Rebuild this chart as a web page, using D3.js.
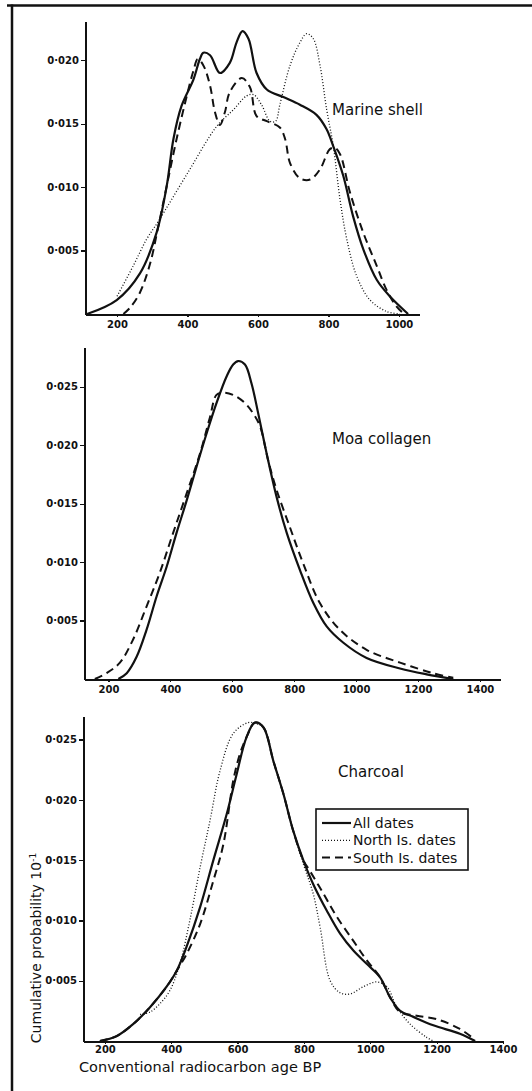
<!DOCTYPE html>
<meta charset="utf-8">
<style>
  body { margin: 0; background: #fff; }
  svg { display: block; }
  .axis path, .axis line { stroke: #111; shape-rendering: crispEdges; }
  .axis path { stroke-width: 2px; }
  .axis line { stroke-width: 1.2px; }
  .axis text { font: bold 10px "DejaVu Sans"; fill: #111; }
  .lbl { font: 14px "DejaVu Sans"; fill: #111; }
  .curve { fill: none; stroke: #111; }
</style>
<svg></svg>
<script src="https://d3js.org/d3.v7.min.js"></script>
<script>

// ---- data ----
var seriesNames = ["All dates", "North Is. dates", "South Is. dates"];
var yTicks = [0.005, 0.010, 0.015, 0.020, 0.025];
var xTicksShell = [200, 400, 600, 800, 1000];
var xTicksWide = [200, 400, 600, 800, 1000, 1200, 1400];

// Marine shell
var shellAll = [[115,0],[199,0.0011],[265,0.0032],[312,0.0064],[341,0.0101],[360,0.0138],[383,0.0164],
  [417,0.0185],[435,0.0201],[445,0.0206],[464,0.0204],[492,0.0190],[520,0.0198],[539,0.0214],[556,0.0223],
  [573,0.0217],[596,0.0190],[625,0.0177],[672,0.0171],[719,0.0165],[766,0.0157],[794,0.0146],[814,0.0132],
  [842,0.0109],[870,0.0077],[899,0.0051],[937,0.0027],[974,0.0014],[1026,0]];
var shellNorth = [[200,0.0014],[246,0.0038],[284,0.0059],[317,0.0073],[400,0.0111],[483,0.0148],[530,0.0161],
  [568,0.0172],[587,0.0173],[610,0.0165],[634,0.0152],[650,0.0152],[662,0.0165],[691,0.0196],[719,0.0214],
  [738,0.0221],[757,0.0217],[776,0.0196],[795,0.0161],[814,0.0132],[833,0.0090],[852,0.0059],[880,0.0030],
  [918,0.0011],[965,0.0002],[1003,0]];
var shellSouth = [[218,0],[237,0.0005],[265,0.0017],[294,0.0040],[317,0.0069],[341,0.0101],[369,0.0138],
  [398,0.0172],[417,0.0192],[429,0.0201],[445,0.0196],[464,0.0180],[478,0.0159],[492,0.0149],[506,0.0159],
  [520,0.0175],[554,0.0186],[577,0.0179],[596,0.0156],[625,0.0152],[662,0.0147],[677,0.0138],[691,0.0119],
  [719,0.0107],[748,0.0106],[776,0.0114],[804,0.0130],[818,0.0131],[833,0.0126],[861,0.0096],[899,0.0064],
  [937,0.0038],[965,0.0019],[993,0.0006],[1015,0]];

// Moa collagen
var moaAll = [[232,0],[259,0.0005],[291,0.0019],[323,0.0042],[356,0.0071],[388,0.0096],[420,0.0125],
  [453,0.0153],[485,0.0182],[517,0.0210],[549,0.0236],[582,0.0259],[603,0.0269],[619,0.0272],[641,0.0269],
  [662,0.0253],[684,0.0227],[711,0.0193],[743,0.0156],[776,0.0125],[819,0.0093],[862,0.0065],[905,0.0045],
  [959,0.0031],[1034,0.0018],[1142,0.0009],[1228,0.0004],[1314,0]];
var moaSouth = [[156,0],[194,0.0005],[237,0.0014],[280,0.0034],[323,0.0062],[366,0.0091],[409,0.0125],
  [453,0.0159],[496,0.0193],[528,0.0224],[549,0.0243],[571,0.0245],[603,0.0243],[641,0.0236],[668,0.0227],
  [690,0.0216],[716,0.0187],[743,0.0162],[786,0.0130],[829,0.0099],[883,0.0065],[948,0.0042],[1034,0.0025],
  [1142,0.0014],[1249,0.0005],[1314,0.0001]];

// Charcoal
var charAll = [[185,0],[235,0.0004],[285,0.0014],[336,0.0028],[386,0.0045],[416,0.0058],[446,0.0078],
  [487,0.0111],[527,0.0150],[567,0.0188],[597,0.0221],[627,0.0252],[652,0.0264],[678,0.0260],[708,0.0232],
  [738,0.0205],[768,0.0174],[798,0.0150],[828,0.0130],[869,0.0108],[909,0.0089],[949,0.0075],[989,0.0064],
  [1029,0.0053],[1060,0.0036],[1090,0.0025],[1130,0.0020],[1190,0.0013],[1270,0.0006],[1316,0]];
var charNorth = [[306,0.0022],[336,0.0024],[366,0.0031],[396,0.0042],[426,0.0064],[456,0.0100],[487,0.0144],
  [517,0.0183],[547,0.0224],[587,0.0255],[632,0.0264],[658,0.0263],[678,0.0260],[708,0.0232],[738,0.0205],
  [768,0.0174],[798,0.0147],[828,0.0122],[849,0.0094],[879,0.0050],[909,0.0040],[939,0.0039],[979,0.0045],
  [1019,0.0049],[1050,0.0045],[1080,0.0028],[1120,0.0014],[1170,0.0003],[1190,0]];
var charSouth = [[185,0],[235,0.0004],[285,0.0014],[336,0.0028],[386,0.0045],[416,0.0058],[446,0.0072],
  [487,0.0097],[527,0.0133],[557,0.0163],[587,0.0216],[607,0.0238],[627,0.0252],[652,0.0264],[678,0.0260],
  [708,0.0232],[738,0.0205],[768,0.0174],[798,0.0150],[818,0.0141],[859,0.0122],[899,0.0103],[949,0.0083],
  [989,0.0067],[1029,0.0053],[1060,0.0036],[1090,0.0024],[1140,0.0021],[1201,0.0018],[1270,0.0010],[1311,0.0002]];

// ---- layout ----
var W = 532, H = 1091;
var svg = d3.select("svg").attr("width", W).attr("height", H);

// frame (top and left rule of the scanned page)
svg.append("line").attr("x1", 7).attr("x2", W).attr("y1", 5.5).attr("y2", 5.5)
  .attr("stroke", "#111").attr("stroke-width", 2.5);
svg.append("line").attr("x1", 12).attr("x2", 12).attr("y1", 4.5).attr("y2", H)
  .attr("stroke", "#111").attr("stroke-width", 2.5);

var styles = {
  all:   { width: 2.2, dash: null },
  north: { width: 1.3, dash: "1,2" },
  south: { width: 2,   dash: "8,5" }
};

var panels = [
  { label: "Marine shell", lx: 332, ly: 115, pad: 4,
    xd: [109, 1057], xr: [85, 419], yd: [0, 0.0231], yr: [314, 21], xt: xTicksShell,
    series: [["all", shellAll], ["north", shellNorth], ["south", shellSouth]] },
  { label: "Moa collagen", lx: 332, ly: 444, pad: 4,
    xd: [121, 1465], xr: [84, 500], yd: [0, 0.0284], yr: [679, 347], xt: xTicksWide,
    series: [["all", moaAll], ["south", moaSouth]] },
  { label: "Charcoal", lx: 338, ly: 777, pad: 2,
    xd: [134, 1397], xr: [83, 502], yd: [0, 0.02695], yr: [1041, 716], xt: xTicksWide,
    series: [["all", charAll], ["north", charNorth], ["south", charSouth]] }
];

var fmt = function(d) { return d3.format(".3f")(d).replace(".", "\u00b7"); };

panels.forEach(function(p) {
  var x = d3.scaleLinear().domain(p.xd).range(p.xr);
  var y = d3.scaleLinear().domain(p.yd).range(p.yr);
  var g = svg.append("g");

  g.append("g").attr("class", "axis")
    .attr("transform", "translate(0," + p.yr[0] + ")")
    .call(d3.axisBottom(x).tickValues(p.xt).tickSize(3).tickSizeOuter(0).tickPadding(p.pad).tickFormat(d3.format("d")));

  g.append("g").attr("class", "axis")
    .attr("transform", "translate(" + p.xr[0] + ",0)")
    .call(d3.axisLeft(y).tickValues(yTicks.filter(function(t) { return t <= p.yd[1]; }))
      .tickSize(4).tickSizeOuter(0).tickPadding(2).tickFormat(fmt));

  var line = d3.line()
    .x(function(d) { return x(d[0]); })
    .y(function(d) { return y(d[1]); })
    .curve(d3.curveCatmullRom.alpha(0.5));

  p.series.forEach(function(s) {
    var st = styles[s[0]];
    g.append("path").attr("class", "curve")
      .attr("d", line(s[1]))
      .attr("stroke-width", st.width)
      .attr("stroke-dasharray", st.dash);
  });

  g.append("text").attr("class", "lbl").attr("x", p.lx).attr("y", p.ly)
    .style("font-size", "15px").text(p.label);
});

// legend
var lg = svg.append("g").attr("transform", "translate(316,809)");
lg.append("rect").attr("width", 152).attr("height", 61)
  .attr("fill", "#fff").attr("stroke", "#111").attr("stroke-width", 1.6);
["all", "north", "south"].forEach(function(k, i) {
  var yy = 14 + i * 17.3;
  lg.append("line").attr("x1", 6).attr("x2", 35).attr("y1", yy).attr("y2", yy)
    .attr("stroke", "#111").attr("stroke-width", styles[k].width).attr("stroke-dasharray", styles[k].dash);
  lg.append("text").attr("class", "lbl").attr("x", 37).attr("y", yy + 5).text(seriesNames[i]);
});

// axis titles
svg.append("text").attr("class", "lbl").attr("x", 79).attr("y", 1072)
  .style("font-size", "14.5px").text("Conventional radiocarbon age BP");

var yt = svg.append("text").attr("class", "lbl")
  .attr("transform", "translate(41,948) rotate(-90)")
  .attr("text-anchor", "middle").style("font-size", "14px");
yt.append("tspan").text("Cumulative probability 10");
yt.append("tspan").attr("baseline-shift", "super").style("font-size", "9px").text("-1");

</script>
